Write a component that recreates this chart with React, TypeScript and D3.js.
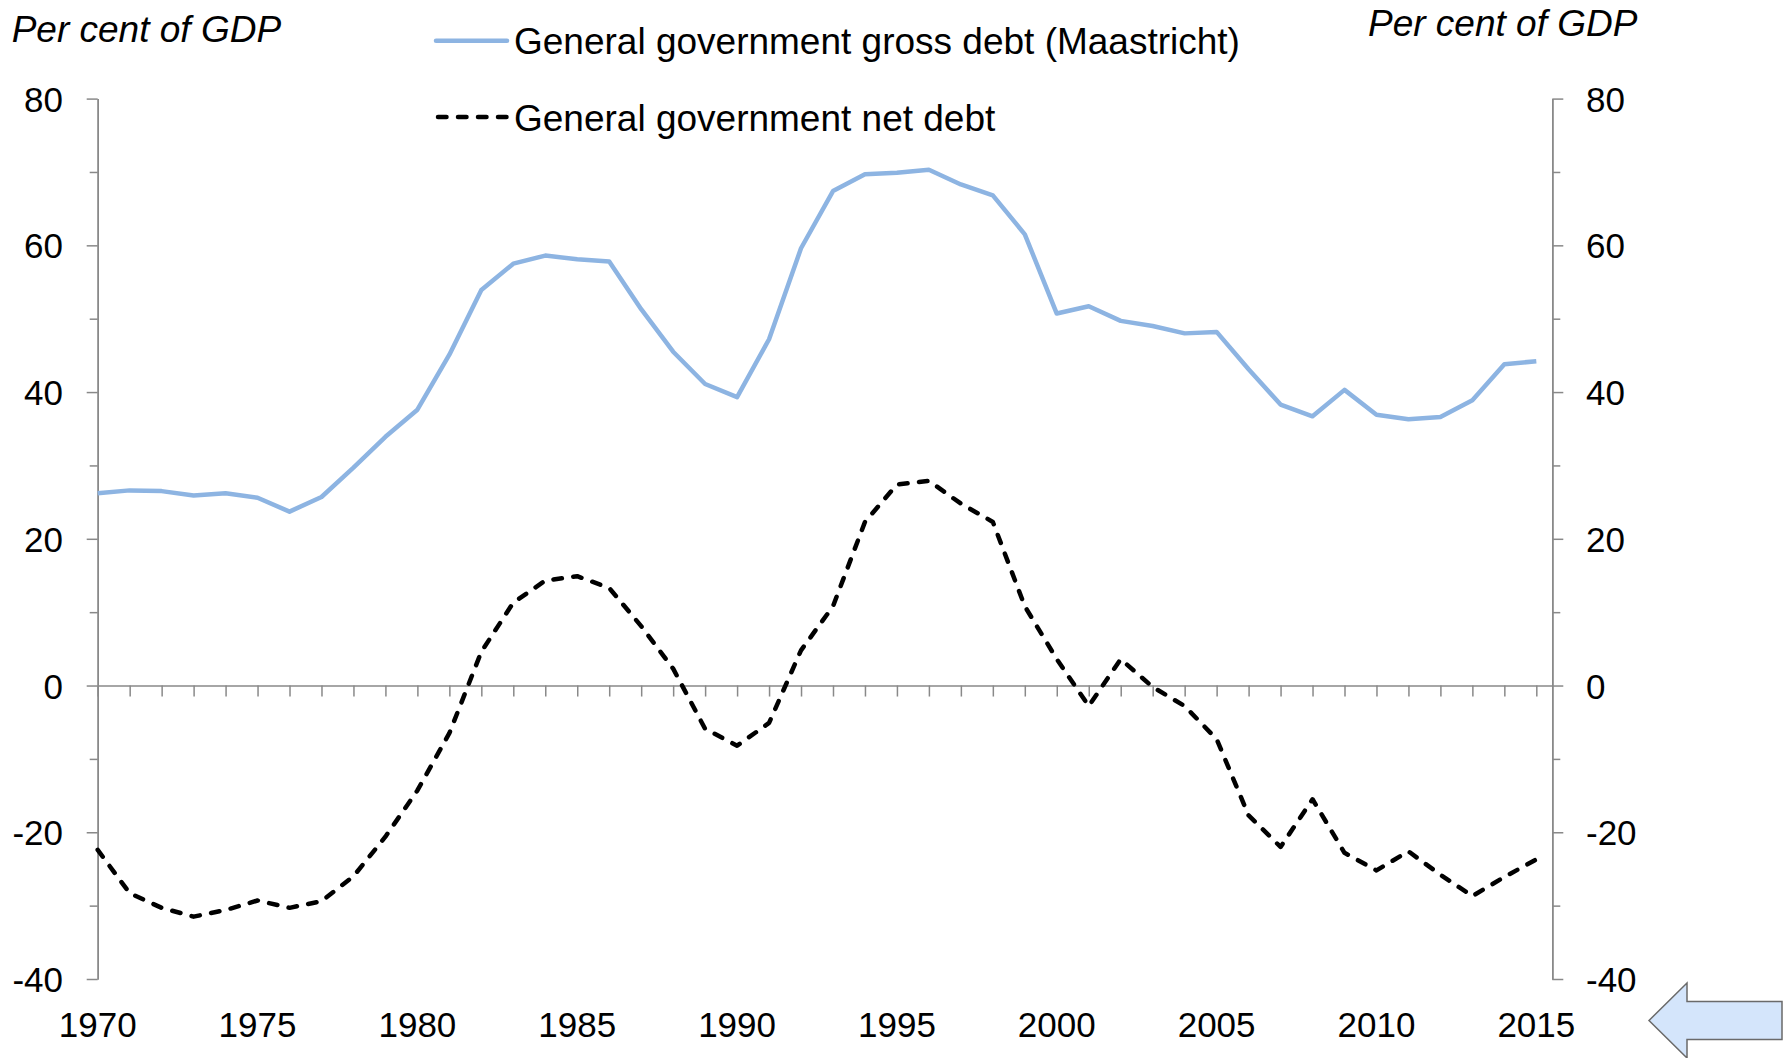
import React, { useEffect, useRef } from 'react';
import * as d3 from 'd3';

// years 1970..2015
const years: number[] = d3.range(1970, 2016);

// General government gross debt (Maastricht), per cent of GDP
const grossDebt: number[] = [
  26.2, 26.6, 26.5, 25.9, 26.2, 25.6, 23.7, 25.7, 29.7, 33.9,
  37.6, 45.1, 53.9, 57.5, 58.6, 58.1, 57.8, 51.3, 45.5, 41.1,
  39.3, 47.2, 59.6, 67.4, 69.7, 69.9, 70.3, 68.3, 66.8, 61.5,
  50.7, 51.7, 49.7, 49.0, 48.0, 48.2, 43.1, 38.3, 36.7, 40.3,
  36.9, 36.3, 36.6, 38.9, 43.8, 44.2,
];

// General government net debt, per cent of GDP
const netDebt: number[] = [
  -22.4, -28.3, -30.3, -31.5, -30.6, -29.3, -30.3, -29.4, -26.0, -20.6,
  -14.3, -6.5, 4.6, 11.3, 14.3, 14.9, 13.3, 8.1, 2.3, -5.9,
  -8.2, -5.1, 4.8, 10.8, 22.3, 27.4, 27.9, 24.8, 22.3, 10.8,
  3.6, -2.8, 3.6, -0.2, -2.8, -7.3, -17.7, -22.0, -15.5, -22.8,
  -25.2, -22.6, -25.8, -28.7, -26.1, -23.7,
];

const yMajorTicks: number[] = [-40, -20, 0, 20, 40, 60, 80];
const yMinorTicks: number[] = [-30, -10, 10, 30, 50, 70];
const xLabelYears: number[] = [1970, 1975, 1980, 1985, 1990, 1995, 2000, 2005, 2010, 2015];

const axisTitle = 'Per cent of GDP';
const legendLabels: string[] = [
  'General government gross debt (Maastricht)',
  'General government net debt',
];

const W = 1783;
const H = 1058;
const FONT = '"Liberation Sans", Arial, sans-serif';
const AXIS_COLOR = '#898989';
const BLUE = '#8db4e2';

export default function App() {
  const ref = useRef<SVGSVGElement | null>(null);

  useEffect(() => {
    const svg = d3.select(ref.current);
    svg.selectAll('*').remove();

    const left = 97.7;
    const right = 1552.3;

    const x = d3.scaleLinear().domain([1970, 2015.5]).range([left, right]);
    const y = d3.scaleLinear().domain([-40, 80]).range([979, 98.6]);

    // plain hyphen for negatives, like the original
    const fmt = (d: any) => String(d);

    const styleAxis = (g: any) => {
      g.select('.domain').attr('stroke', AXIS_COLOR).attr('stroke-width', 1.5);
      g.selectAll('.tick line').attr('stroke', AXIS_COLOR).attr('stroke-width', 1.5);
      g.selectAll('.tick text')
        .attr('fill', '#000')
        .style('font-family', FONT)
        .style('font-size', '35px')
        .attr('dy', '0.36em');
    };

    // left axis
    svg.append('g')
      .attr('transform', `translate(${left},0)`)
      .call(d3.axisLeft(y).tickValues(yMinorTicks).tickSize(8).tickSizeOuter(0).tickFormat(() => ''))
      .call(styleAxis);
    svg.append('g')
      .attr('transform', `translate(${left},0)`)
      .call(d3.axisLeft(y).tickValues(yMajorTicks).tickSize(11).tickSizeOuter(0).tickPadding(23.7).tickFormat(fmt))
      .call(styleAxis);

    // right axis
    svg.append('g')
      .attr('transform', `translate(${right},0)`)
      .call(d3.axisRight(y).tickValues(yMinorTicks).tickSize(8).tickSizeOuter(0).tickFormat(() => ''))
      .call(styleAxis);
    svg.append('g')
      .attr('transform', `translate(${right},0)`)
      .call(d3.axisRight(y).tickValues(yMajorTicks).tickSize(11).tickSizeOuter(0).tickPadding(22.7).tickFormat(fmt))
      .call(styleAxis);

    // zero line with year ticks
    svg.append('g')
      .attr('transform', `translate(0,${y(0)})`)
      .call(d3.axisBottom(x).tickValues(years).tickSize(11).tickSizeOuter(0).tickFormat(() => ''))
      .call(styleAxis);

    // year labels along the bottom
    svg.append('g')
      .selectAll('text')
      .data(xLabelYears)
      .join('text')
      .attr('x', (d) => x(d))
      .attr('y', 1036.5)
      .attr('text-anchor', 'middle')
      .style('font-family', FONT)
      .style('font-size', '35px')
      .text((d) => String(d));

    const line = d3.line<number>()
      .x((d, i) => x(years[i]))
      .y((d) => y(d));

    svg.append('path')
      .attr('d', line(netDebt) as string)
      .attr('fill', 'none')
      .attr('stroke', '#000')
      .attr('stroke-width', 4.5)
      .attr('stroke-linecap', 'round')
      .attr('stroke-linejoin', 'round')
      .attr('stroke-dasharray', '8.5 11.5');

    svg.append('path')
      .attr('d', line(grossDebt) as string)
      .attr('fill', 'none')
      .attr('stroke', BLUE)
      .attr('stroke-width', 4.5)
      .attr('stroke-linejoin', 'round');

    // axis titles
    svg.append('text')
      .attr('x', 11.7)
      .attr('y', 42)
      .style('font-family', FONT)
      .style('font-size', '37px')
      .style('font-style', 'italic')
      .text(axisTitle);
    svg.append('text')
      .attr('x', 1368)
      .attr('y', 36)
      .style('font-family', FONT)
      .style('font-size', '37px')
      .style('font-style', 'italic')
      .text(axisTitle);

    // legend
    const le = svg.append('g');
    le.append('line')
      .attr('x1', 436).attr('x2', 507)
      .attr('y1', 40.7).attr('y2', 40.7)
      .attr('stroke', BLUE)
      .attr('stroke-width', 4.5)
      .attr('stroke-linecap', 'round');
    le.append('line')
      .attr('x1', 438).attr('x2', 510)
      .attr('y1', 117).attr('y2', 117)
      .attr('stroke', '#000')
      .attr('stroke-width', 4.5)
      .attr('stroke-linecap', 'round')
      .attr('stroke-dasharray', '8.5 11.5');
    le.selectAll('text')
      .data(legendLabels)
      .join('text')
      .attr('x', 514)
      .attr('y', (d, i) => (i === 0 ? 54 : 130.5))
      .style('font-family', FONT)
      .style('font-size', '37px')
      .text((d) => d);

    // arrow in the bottom right corner
    const arrow: [number, number][] = [
      [1649, 1020.5], [1687, 983], [1687, 1001.5], [1782, 1001.5],
      [1782, 1039.5], [1687, 1039.5], [1687, 1058],
    ];
    svg.append('path')
      .attr('d', d3.line()(arrow) + 'Z')
      .attr('fill', '#d4e5fb')
      .attr('stroke', '#6a6a6a')
      .attr('stroke-width', 1.5);
  }, []);

  return (
    <div style={{ position: 'absolute', left: 0, top: 0 }}>
      <svg ref={ref} width={W} height={H} style={{ display: 'block', background: '#fff' }} />
    </div>
  );
}
